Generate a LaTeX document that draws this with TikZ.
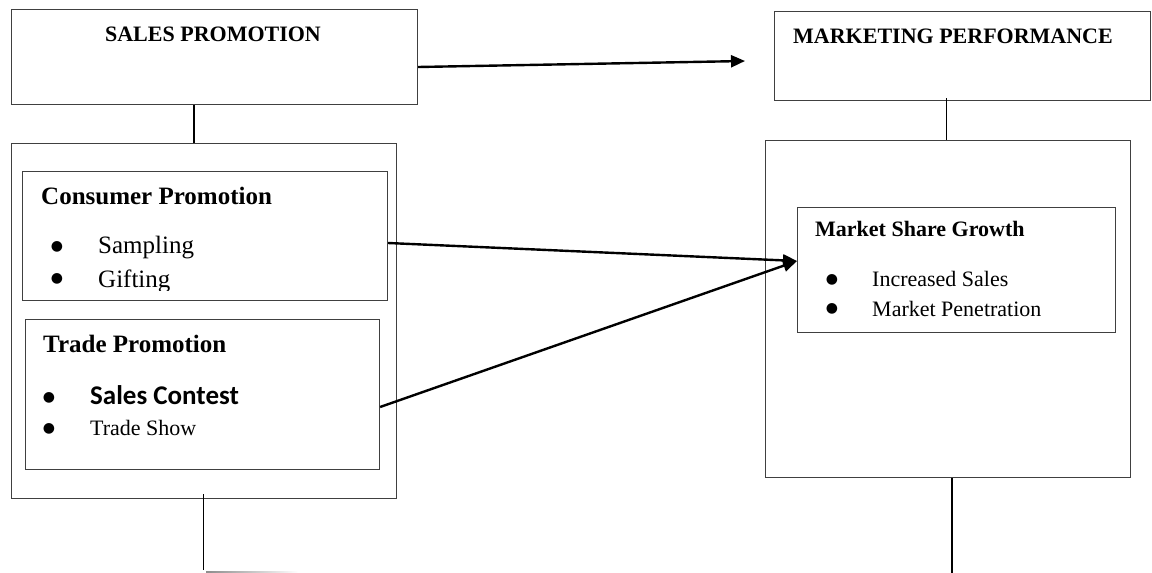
\documentclass[tikz,border=0pt]{standalone}
\usepackage{fontspec}
\setmainfont{Liberation Serif}
\newfontfamily\calibri{Carlito}
\newfontfamily\dejavu{DejaVu Sans}
\usetikzlibrary{arrows.meta}
\begin{document}
\begin{tikzpicture}[x=1pt,y=-1pt,
  box/.style={draw=black!75,line width=1.1pt,anchor=north west,inner sep=0pt,fill=none},
  arr/.style={line width=2.4pt,-{Triangle[length=14pt,width=12pt]}},
  conn/.style={line width=1pt},
  thick conn/.style={line width=2pt},
  txt/.style={anchor=base west,inner sep=0pt},
  bul/.style={inner sep=0pt,font=\dejavu\fontsize{14}{14}\selectfont},
  fa/.style={font=\fontsize{22}{22}\selectfont},
  fb/.style={font=\fontsize{25}{25}\selectfont}
]
\useasboundingbox (0,0) rectangle (1152,573);
\fill[white] (0,0) rectangle (1152,573);

% boxes
\node[box,minimum width=406pt,minimum height=95pt] (sp) at (11,9) {};
\node[box,minimum width=385pt,minimum height=355pt] (lbig) at (11,143) {};
\node[box,minimum width=365pt,minimum height=129pt] (cons) at (22,171) {};
\node[box,minimum width=354pt,minimum height=150pt] (trade) at (25,319) {};
\node[box,minimum width=376pt,minimum height=89pt] (mp) at (774,11) {};
\node[box,minimum width=365pt,minimum height=337pt] (rbig) at (765,140) {};
\node[box,minimum width=318pt,minimum height=125pt] (msg) at (797,207) {};

% titles
\node[anchor=base,inner sep=0pt,fa] (tsp) at (213,41) {\bfseries SALES PROMOTION};
\node[txt,fa] (tmp) at (793,43) {\bfseries MARKETING PERFORMANCE};

% consumer promotion
\node[txt,fb] (tcons) at (41,204) {\bfseries Consumer Promotion};
\begin{scope}
\clip (22,171) rectangle (387,290);
\node[bul] (b1) at (57,247) {●};
\node[bul] (b2) at (57,279) {●};
\node[txt,fb] (s1) at (98,253) {Sampling};
\node[txt,fb] (s2) at (98,287) {Gifting};
\end{scope}

% trade promotion
\node[txt,fb] (ttrade) at (43,352) {\bfseries Trade Promotion};
\node[bul] (b3) at (49,398) {●};
\node[bul] (b4) at (49,429) {●};
\node[txt,font=\calibri\bfseries\fontsize{27}{27}\selectfont] (s3) at (90,404) {Sales Contest};
\node[txt,fa] (s4) at (90,435) {Trade Show};

% market share growth
\node[txt,fa] (tmsg) at (815,236) {\bfseries Market Share Growth};
\node[bul] (b5) at (832,280) {●};
\node[bul] (b6) at (832,309) {●};
\node[txt,fa] (s5) at (872,286) {Increased Sales};
\node[txt,fa] (s6) at (872,316) {Market Penetration};

% connectors
\coordinate (t1) at (745,61);
\draw[arr] (sp.east |- 0,67) -- (t1);
\draw[arr] (cons.east |- 0,243) -- (msg.west |- 0,261);
\draw[arr] (trade.east |- 0,407) -- (msg.west |- 0,261);

\draw[thick conn] (sp.south -| 194,0) -- (lbig.north -| 194,0);
\draw[conn] (mp.south -| 946,0) ++(0,-3) -- (rbig.north -| 946,0);

\coordinate (rb) at (952,573);
\draw[thick conn] (rbig.south -| rb) -- (rb);

\coordinate (lb) at (203,570);
\draw[conn] (lbig.south -| lb) ++(0,-5) -- (lb);
\shade[left color=black!45,right color=white] (206,571) rectangle (298,573);
\end{tikzpicture}
\end{document}
